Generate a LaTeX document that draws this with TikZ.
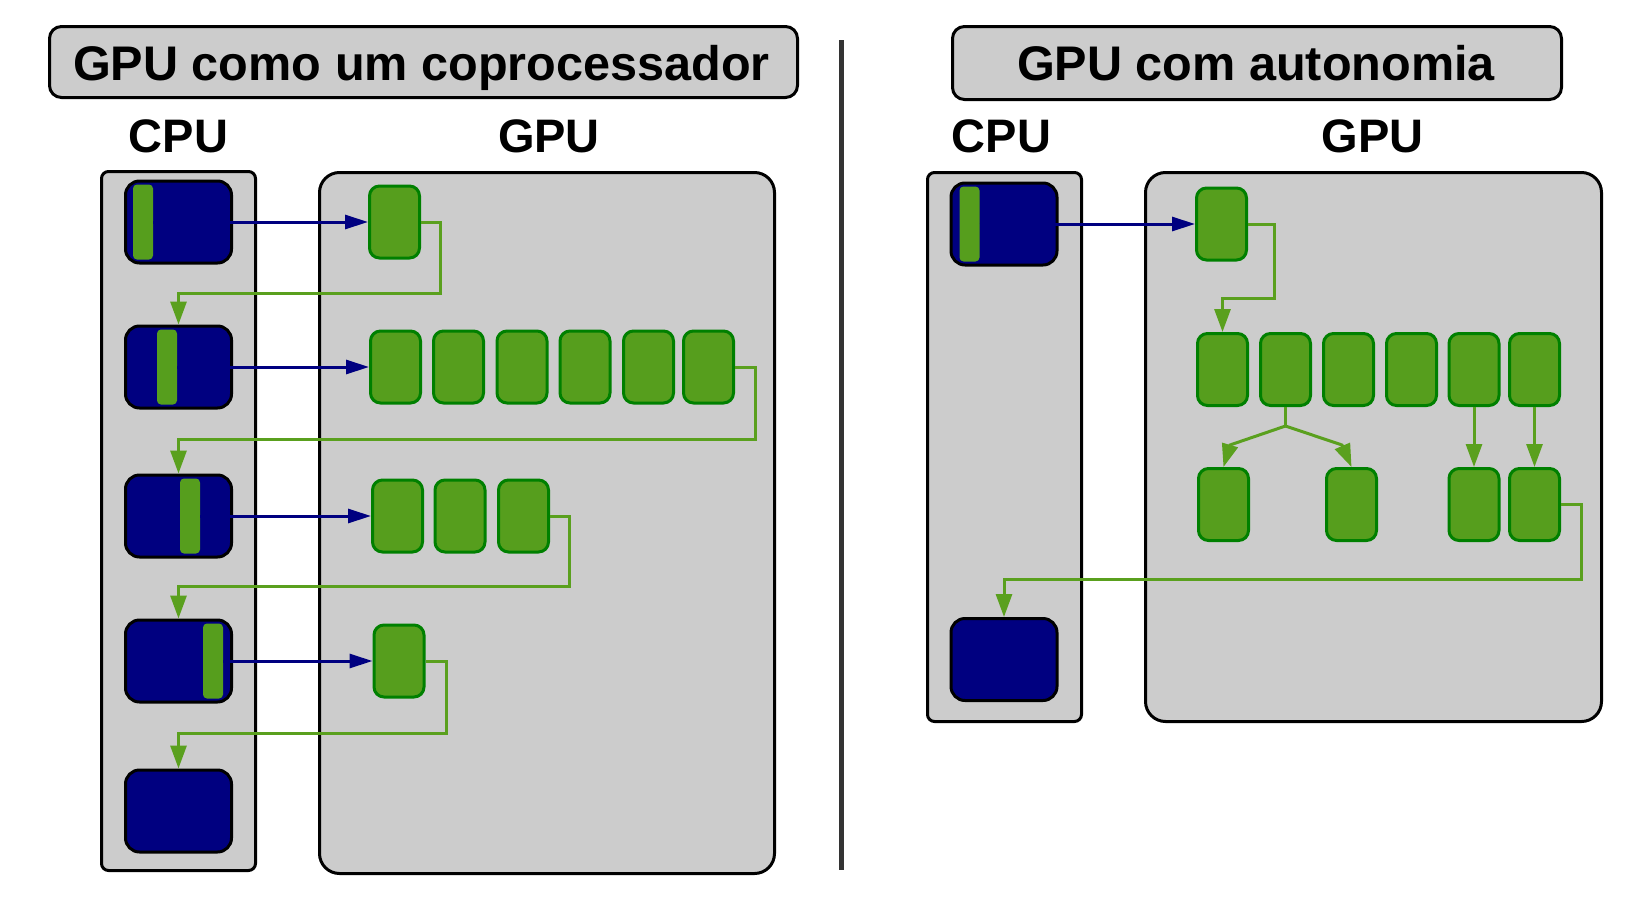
\documentclass[tikz,border=0pt]{standalone}
\usepackage{fontspec}
\setmainfont{Liberation Sans}
\usetikzlibrary{arrows.meta}
\definecolor{navy}{RGB}{0,0,128}
\definecolor{boxgray}{RGB}{204,204,204}
\definecolor{gfill}{RGB}{86,158,29}
\definecolor{gborder}{RGB}{0,128,0}
\definecolor{glinec}{RGB}{90,160,30}
\definecolor{divgray}{RGB}{51,51,51}
\tikzset{
  panelbox/.style={draw=black, line width=3pt, fill=boxgray},
  titletext/.style={anchor=base, inner sep=0pt, font=\fontsize{48.6}{58}\selectfont\bfseries},
  labeltext/.style={anchor=base, inner sep=0pt, font=\fontsize{47}{56}\selectfont\bfseries},
  cpublk/.style={draw=black, line width=3pt, fill=navy, rounded corners=14pt,
    minimum width=106pt, minimum height=82pt, inner sep=0pt},
  gbar/.style={fill=gfill, rounded corners=4pt, minimum width=20pt, minimum height=75pt, inner sep=0pt},
  gbox/.style={draw=gborder, line width=3pt, fill=gfill, rounded corners=10pt,
    minimum width=50pt, minimum height=72pt, inner sep=0pt},
  barrow/.style={draw=navy, line width=3pt, -{Triangle[length=23pt,width=14pt]}},
  garrow/.style={draw=glinec, line width=3pt, -{Triangle[length=23pt,width=16pt]}},
  gconn/.style={draw=glinec, line width=3pt},
}
\begin{document}
\begin{tikzpicture}[x=1pt,y=-1pt]
\useasboundingbox (0,0) rectangle (1642,905);

% ===== Left panel =====
\draw[panelbox, rounded corners=12pt] (49.5,26.5) rectangle (797.5,97.5);
\node[titletext] (t1) at (421.5,80.5) {GPU como um coprocessador};
\node[labeltext] (lcpu) at (178.5,152) {CPU};
\node[labeltext] (lgpu) at (549,152) {GPU};
\draw[panelbox, rounded corners=7pt] (101.5,171.5) rectangle (255.5,870.5);
\draw[panelbox, rounded corners=20pt] (319.5,172.5) rectangle (774.5,873.5);

% CPU blocks
\node[cpublk] (c1) at (178.5,222) {};
\node[cpublk] (c2) at (178.5,367) {};
\node[cpublk] (c3) at (178.5,516) {};
\node[cpublk] (c4) at (178.5,661) {};
\node[cpublk] (c5) at (178.5,811) {};
\node[gbar] (b1) at (143,222) {};
\node[gbar] (b2) at (167,367) {};
\node[gbar] (b3) at (190,516) {};
\node[gbar] (b4) at (213,661) {};

% GPU tasks
\node[gbox] (g1) at (394.5,222) {};
\node[gbox] (g2a) at (395.5,367) {};
\node[gbox] (g2b) at (458.5,367) {};
\node[gbox] (g2c) at (522,367) {};
\node[gbox] (g2d) at (585,367) {};
\node[gbox] (g2e) at (648.5,367) {};
\node[gbox] (g2f) at (708.5,367) {};
\node[gbox] (g3a) at (397.5,516) {};
\node[gbox] (g3b) at (460,516) {};
\node[gbox] (g3c) at (523.5,516) {};
\node[gbox] (g4) at (399,661) {};

% launches
\draw[barrow] (b1.east) -- (g1.west);
\draw[barrow] (b2.east) -- (g2a.west);
\draw[barrow] (b3.east) -- (g3a.west);
\draw[barrow] (b4.east) -- (g4.west);

% returns
\draw[garrow] (g1.east) -| (440,293) -| (c2.north);
\draw[garrow] (g2f.east) -| (755,439) -| (c3.north);
\draw[garrow] (g3c.east) -| (569,586) -| (c4.north);
\draw[garrow] (g4.east) -| (446,733) -| (c5.north);

% divider
\draw[draw=divgray, line width=5pt] (841,40) -- (841,870);

% ===== Right panel =====
\draw[panelbox, rounded corners=12pt] (952.5,26.5) rectangle (1561.5,99.5);
\node[titletext] (t2) at (1256,80.5) {GPU com autonomia};
\node[labeltext] (rcpu) at (1001.5,152) {CPU};
\node[labeltext] (rgpu) at (1372.5,152) {GPU};
\draw[panelbox, rounded corners=7pt] (927.5,172.5) rectangle (1081.5,721.5);
\draw[panelbox, rounded corners=20pt] (1145.5,172.5) rectangle (1601.5,721.5);

\node[cpublk] (rc1) at (1004,224) {};
\node[cpublk] (rc2) at (1004,659.5) {};
\node[gbar] (rb1) at (969.5,224) {};

\node[gbox] (rg1) at (1221.5,224) {};
\node[gbox] (r2a) at (1222.5,369.5) {};
\node[gbox] (r2b) at (1285.5,369.5) {};
\node[gbox] (r2c) at (1348.5,369.5) {};
\node[gbox] (r2d) at (1411.5,369.5) {};
\node[gbox] (r2e) at (1474,369.5) {};
\node[gbox] (r2f) at (1534.5,369.5) {};
\node[gbox] (r3a) at (1223.5,504.5) {};
\node[gbox] (r3b) at (1351.5,504.5) {};
\node[gbox] (r3c) at (1474,504.5) {};
\node[gbox] (r3d) at (1534.5,504.5) {};

\draw[barrow] (rb1.east) -- (rg1.west);
\draw[garrow] (rg1.east) -| (1274,298) -| (r2a.north);

\coordinate (fork) at (1285.5,426);
\draw[gconn] (r2b.south) -- (fork);
\draw[garrow] (fork) -- (1230,445) -- (r3a.north);
\draw[garrow] (fork) -- (1342,445) -- (r3b.north);
\draw[garrow] (r2e.south) -- (r3c.north);
\draw[garrow] (r2f.south) -- (r3d.north);

\draw[garrow] (r3d.east) -| (1581,579) -| (rc2.north);
\end{tikzpicture}
\end{document}
